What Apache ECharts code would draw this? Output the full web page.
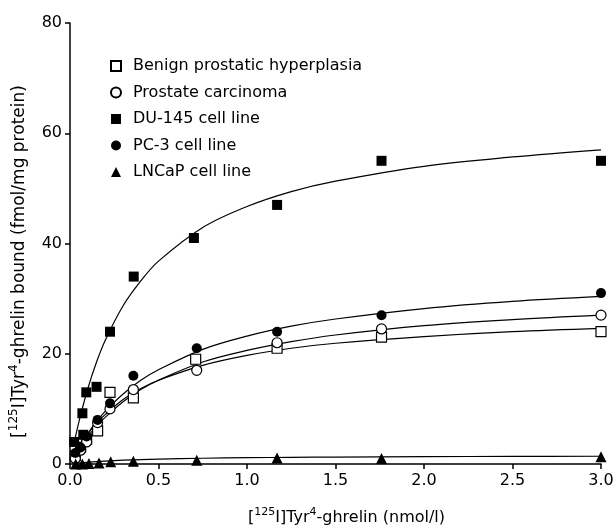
<!DOCTYPE html>
<html>
<head>
<meta charset="utf-8">
<script src="https://cdn.jsdelivr.net/npm/echarts@6/dist/echarts.min.js"></script>
<style>
  html, body { margin: 0; padding: 0; background: #fff; }
  #main { width: 616px; height: 530px; }
</style>
</head>
<body>
<div id="main"></div>
<script>
// measured points [concentration, bound]
var benignPts = [[0.03, 1.5], [0.06, 3], [0.094, 4.5], [0.156, 6], [0.226, 13], [0.358, 12], [0.71, 19], [1.17, 21], [1.76, 23], [3.0, 24]];
var carcinomaPts = [[0.03, 1], [0.06, 2.5], [0.094, 4], [0.156, 7.5], [0.226, 10], [0.358, 13.5], [0.716, 17], [1.17, 22], [1.76, 24.5], [3.0, 27]];
var du145Pts = [[0.023, 4], [0.075, 5.3], [0.07, 9.2], [0.092, 13], [0.15, 14], [0.226, 24], [0.36, 34], [0.70, 41], [1.17, 47], [1.76, 55], [3.0, 55]];
var pc3Pts = [[0.03, 2], [0.06, 3], [0.094, 5], [0.156, 8], [0.226, 11], [0.358, 16], [0.716, 21], [1.17, 24], [1.76, 27], [3.0, 31]];
var lncapPts = [[0.032, 0], [0.07, 0], [0.107, 0.1], [0.164, 0.2], [0.23, 0.4], [0.358, 0.5], [0.716, 0.7], [1.17, 1.1], [1.76, 1.0], [3.0, 1.3]];

// fitted curves at these x positions
var curveX = [0.02, 0.05, 0.1, 0.15, 0.2, 0.3, 0.4, 0.5, 0.75, 1.0, 1.25, 1.5, 2.0, 2.5, 3.0];
var benignCurve = [1.3, 3.0, 5.4, 7.4, 9.0, 11.7, 13.7, 15.2, 17.9, 19.7, 21.0, 21.9, 23.1, 24.0, 24.6];
var carcinomaCurve = [1.1, 2.7, 4.9, 6.9, 8.5, 11.3, 13.5, 15.2, 18.5, 20.6, 22.2, 23.4, 25.1, 26.2, 27.0];
var du145Curve = [3.3, 7.6, 13.6, 18.5, 22.5, 28.7, 33.2, 36.8, 42.9, 46.7, 49.4, 51.3, 54.0, 55.7, 57.0];
var pc3Curve = [1.3, 3.0, 5.5, 7.7, 9.6, 12.7, 15.2, 17.1, 20.8, 23.2, 25.0, 26.3, 28.2, 29.5, 30.4];
var lncapCurve = [0.08, 0.18, 0.32, 0.44, 0.53, 0.69, 0.8, 0.89, 1.04, 1.14, 1.21, 1.26, 1.33, 1.38, 1.41];

var names = ['Benign prostatic hyperplasia', 'Prostate carcinoma', 'DU-145 cell line', 'PC-3 cell line', 'LNCaP cell line'];

var font = 'DejaVu Sans';

function pair(xs, ys) {
    return xs.map(function (x, i) { return [x, ys[i]]; });
}

function curve(ys) {
    return {
        type: 'line',
        data: pair(curveX, ys),
        smooth: 0.35,
        showSymbol: false,
        symbol: 'none',
        silent: true,
        lineStyle: { color: '#000', width: 1.2 },
        z: 2
    };
}

function dots(name, pts, symbol, open, size) {
    return {
        name: name,
        type: 'scatter',
        data: pts,
        symbol: symbol,
        symbolSize: size,
        itemStyle: {
            color: open ? '#fff' : '#000',
            borderColor: '#000',
            borderWidth: open ? 1.2 : 0,
            opacity: 1
        },
        z: 3
    };
}

function supRich(size) {
    return { sup: { fontSize: size, fontFamily: font, color: '#000', verticalAlign: 'top', lineHeight: size } };
}

var chart = echarts.init(document.getElementById('main'));
chart.setOption({
    backgroundColor: '#fff',
    animation: false,
    textStyle: { fontFamily: font, color: '#000' },
    grid: { left: 70, right: 15, top: 23, bottom: 66, outerBoundsMode: 'none' },
    legend: {
        data: names,
        orient: 'vertical',
        left: 105,
        top: 53,
        itemWidth: 10,
        itemHeight: 10,
        itemGap: 10.5,
        selectedMode: false,
        textStyle: { fontSize: 16, fontFamily: font, color: '#000', padding: [0, 0, 0, 7] }
    },
    xAxis: {
        type: 'value',
        min: 0,
        max: 3,
        interval: 0.5,
        name: '[{sup|125}I]Tyr{sup|4}-ghrelin (nmol/l)',
        nameLocation: 'middle',
        nameGap: 43,
        nameTextStyle: { fontSize: 16, fontFamily: font, color: '#000', lineHeight: 22, padding: [0, 0, 0, 22], rich: supRich(11) },
        axisLine: { lineStyle: { color: '#000', width: 1.5 } },
        axisTick: { length: 5, lineStyle: { color: '#000', width: 1.5 } },
        axisLabel: {
            fontSize: 16, color: '#000', margin: 9,
            formatter: function (v) { return v.toFixed(1); }
        },
        splitLine: { show: false }
    },
    yAxis: {
        type: 'value',
        min: 0,
        max: 80,
        interval: 20,
        name: '[{sup|125}I]Tyr{sup|4}-ghrelin bound (fmol/mg protein)',
        nameLocation: 'middle',
        nameRotate: 90,
        nameGap: 33,
        nameTextStyle: { fontSize: 17, fontFamily: font, color: '#000', lineHeight: 23, padding: [0, 36, 0, 0], rich: supRich(12) },
        axisLine: { lineStyle: { color: '#000', width: 1.5 } },
        axisTick: { length: 5, lineStyle: { color: '#000', width: 1.5 } },
        axisLabel: { fontSize: 16, color: '#000', margin: 8 },
        splitLine: { show: false }
    },
    series: [
        curve(benignCurve),
        curve(carcinomaCurve),
        curve(du145Curve),
        curve(pc3Curve),
        curve(lncapCurve),
        dots(names[0], benignPts, 'rect', true, 10),
        dots(names[1], carcinomaPts, 'circle', true, 10),
        dots(names[2], du145Pts, 'rect', false, 10),
        dots(names[3], pc3Pts, 'circle', false, 10),
        dots(names[4], lncapPts, 'triangle', false, 11)
    ]
});
</script>
</body>
</html>
